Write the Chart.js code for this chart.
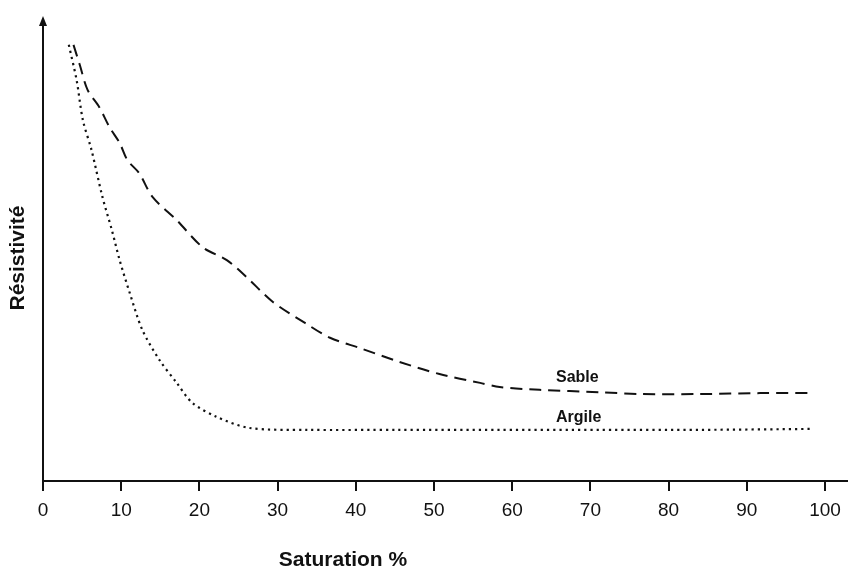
<!DOCTYPE html>
<html>
<head>
<meta charset="utf-8">
<script src="https://cdn.jsdelivr.net/npm/chart.js@4"></script>
<style>
    html, body { margin: 0; padding: 0; background: #fff; }
    #wrap { width: 850px; height: 568px; }
</style>
</head>
<body>
<div id="wrap"><canvas id="chart"></canvas></div>
<script>
// Saturation (%) and relative resistivity
const sableX = [3.9, 4.7, 5.7, 7.2, 8.5, 9.8, 10.8, 12.3, 14.0, 17.1, 20.4, 23.5, 26.0, 29.4, 33.5, 36.7, 40.5, 45.6, 50.7, 55.9, 58.4, 63.5, 71.2, 76.3, 84.0, 91.7, 98.5];
const sableY = [93.8, 89.5, 84.1, 80.4, 76.1, 72.7, 69.0, 66.2, 61.1, 56.1, 50.3, 47.5, 43.9, 38.5, 34.0, 30.8, 28.6, 25.6, 23.0, 21.1, 20.2, 19.6, 19.1, 18.7, 18.7, 18.9, 18.9];

const argileX = [3.3, 4.3, 5.1, 6.2, 7.6, 8.8, 9.8, 11.1, 12.7, 14.9, 17.1, 19.1, 22.2, 26.4, 33.7, 45.6, 58.4, 71.2, 84.0, 98.5];
const argileY = [93.8, 86.2, 77.6, 71.2, 61.1, 54.0, 47.5, 40.4, 32.5, 26.0, 21.1, 16.8, 13.8, 11.4, 11.0, 11.0, 11.0, 11.0, 11.0, 11.2];

const xTicks = [0, 10, 20, 30, 40, 50, 60, 70, 80, 90, 100];

// curve labels: [text, x, y]
const curveLabels = [['Sable', 65.6, 21.3], ['Argile', 65.6, 12.7]];

const toPoints = (xs, ys) => xs.map((x, i) => ({ x: x, y: ys[i] }));

const ink = '#111';
const fontFamily = '"Liberation Sans", Arial, sans-serif';

// draws the y axis with arrow, the long x axis line, curve labels and axis titles
const axesPlugin = {
    id: 'axesPlugin',
    afterDraw(chart) {
        const ctx = chart.ctx;
        const area = chart.chartArea;
        const xs = chart.scales.x;
        const ys = chart.scales.y;
        ctx.save();
        ctx.strokeStyle = ink;
        ctx.fillStyle = ink;
        ctx.lineWidth = 2;

        // x axis line
        ctx.beginPath();
        ctx.moveTo(area.left - 1, area.bottom);
        ctx.lineTo(848, area.bottom);
        ctx.stroke();

        // y axis line + arrow head
        ctx.beginPath();
        ctx.moveTo(area.left, area.bottom);
        ctx.lineTo(area.left, area.top + 8);
        ctx.stroke();
        ctx.beginPath();
        ctx.moveTo(area.left, area.top);
        ctx.lineTo(area.left - 4, area.top + 10);
        ctx.lineTo(area.left + 4, area.top + 10);
        ctx.closePath();
        ctx.fill();

        // curve labels
        ctx.font = 'bold 16px ' + fontFamily;
        ctx.textBaseline = 'alphabetic';
        ctx.textAlign = 'left';
        curveLabels.forEach(([txt, x, y]) => {
            ctx.fillText(txt, xs.getPixelForValue(x), ys.getPixelForValue(y));
        });

        // x axis title (sits left of centre in the original)
        ctx.font = 'bold 21px ' + fontFamily;
        ctx.textAlign = 'center';
        ctx.fillText('Saturation %', 343, 566);

        // y axis title
        ctx.font = 'bold 21px ' + fontFamily;
        ctx.textBaseline = 'middle';
        ctx.translate(18.5, 258);
        ctx.rotate(-Math.PI / 2);
        ctx.fillText('Résistivité', 0, 0);
        ctx.restore();
    }
};

new Chart(document.getElementById('chart'), {
    type: 'line',
    data: {
        datasets: [
            {
                label: 'Sable',
                data: toPoints(sableX, sableY),
                borderColor: ink,
                borderWidth: 2,
                borderDash: [12, 7],
                pointRadius: 0,
                tension: 0.3,
                fill: false
            },
            {
                label: 'Argile',
                data: toPoints(argileX, argileY),
                borderColor: ink,
                borderWidth: 2.2,
                borderDash: [2.2, 4],
                pointRadius: 0,
                tension: 0.3,
                fill: false
            }
        ]
    },
    options: {
        responsive: true,
        maintainAspectRatio: false,
        animation: false,
        layout: { padding: { left: 0, right: 25, top: 16, bottom: 0 } },
        plugins: {
            legend: { display: false },
            tooltip: { enabled: false }
        },
        scales: {
            x: {
                type: 'linear',
                min: 0,
                max: 100,
                afterBuildTicks: (scale) => {
                    scale.ticks = xTicks.map(v => ({ value: v }));
                },
                afterFit: (scale) => { scale.height = 87; },
                border: { display: false },
                grid: {
                    drawOnChartArea: false,
                    drawTicks: true,
                    tickLength: 10,
                    color: ink,
                    lineWidth: 2
                },
                ticks: {
                    color: ink,
                    padding: 8,
                    maxRotation: 0,
                    font: { family: fontFamily, size: 19 }
                }
            },
            y: {
                type: 'linear',
                min: 0,
                max: 100,
                afterFit: (scale) => { scale.width = 43; },
                border: { display: false },
                grid: { display: false },
                ticks: { display: false }
            }
        }
    },
    plugins: [axesPlugin]
});
</script>
</body>
</html>
